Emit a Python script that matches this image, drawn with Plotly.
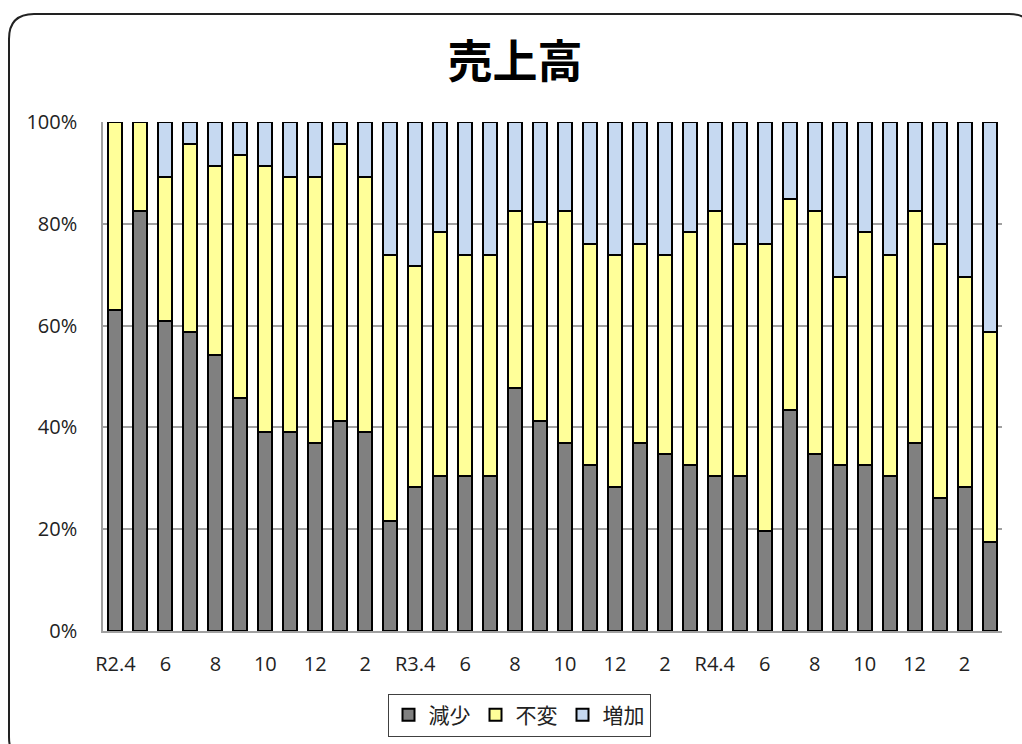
import plotly.graph_objects as go

months = ["R2.4", "R2.5", "R2.6", "R2.7", "R2.8", "R2.9", "R2.10", "R2.11", "R2.12",
          "R3.1", "R3.2", "R3.3", "R3.4", "R3.5", "R3.6", "R3.7", "R3.8", "R3.9",
          "R3.10", "R3.11", "R3.12", "R4.1", "R4.2", "R4.3", "R4.4", "R4.5", "R4.6",
          "R4.7", "R4.8", "R4.9", "R4.10", "R4.11", "R4.12", "R5.1", "R5.2", "R5.3"]

tick_months = ["R2.4", "R2.6", "R2.8", "R2.10", "R2.12", "R3.2", "R3.4", "R3.6", "R3.8",
               "R3.10", "R3.12", "R4.2", "R4.4", "R4.6", "R4.8", "R4.10", "R4.12", "R5.2"]
tick_labels = ["R2.4", "6", "8", "10", "12", "2", "R3.4", "6", "8",
               "10", "12", "2", "R4.4", "6", "8", "10", "12", "2"]

y_tick_vals = [0, 20, 40, 60, 80, 100]
y_tick_labels = ["0%", "20%", "40%", "60%", "80%", "100%"]

decrease = [63.0, 82.6, 60.9, 58.7, 54.3, 45.7, 39.1, 39.1, 37.0,
            41.3, 39.1, 21.7, 28.3, 30.4, 30.4, 30.4, 47.8, 41.3,
            37.0, 32.6, 28.3, 37.0, 34.8, 32.6, 30.4, 30.4, 19.6,
            43.5, 34.8, 32.6, 32.6, 30.4, 37.0, 26.1, 28.3, 17.4]
unchanged = [37.0, 17.4, 28.2, 37.0, 37.0, 47.8, 52.2, 50.0, 52.1,
             54.4, 50.0, 52.2, 43.4, 47.9, 43.5, 43.5, 34.8, 39.1,
             45.6, 43.5, 45.6, 39.1, 39.1, 45.7, 52.2, 45.7, 56.5,
             41.3, 47.8, 37.0, 45.7, 43.5, 45.6, 50.0, 41.3, 41.3]
increase = [0.0, 0.0, 10.9, 4.3, 8.7, 6.5, 8.7, 10.9, 10.9,
            4.3, 10.9, 26.1, 28.3, 21.7, 26.1, 26.1, 17.4, 19.6,
            17.4, 23.9, 26.1, 23.9, 26.1, 21.7, 17.4, 23.9, 23.9,
            15.2, 17.4, 30.4, 21.7, 26.1, 17.4, 23.9, 30.4, 41.3]

series_names = ["減少", "不変", "増加"]
series_colors = ["#808080", "#FFFF99", "#C6D9F1"]

W, H = 1022, 744
L, R, T, B = 103, 20, 122, 113
PW, PH = W - L - R, H - T - B

fig = go.Figure()
for name, vals, col in zip(series_names, [decrease, unchanged, increase], series_colors):
    fig.add_trace(go.Bar(
        x=months, y=vals, name=name,
        marker=dict(color=col, line=dict(color="#000000", width=2)),
    ))


def px(x):
    return (x - L) / PW


def py(y):
    return (H - B - y) / PH


# rounded chart-area border (pixel geometry converted to paper coords)
x0, y0, x1, y1, r = 9, 14, 1034, 762, 25
path = (f"M {px(x0)},{py(y0 + r)} Q {px(x0)},{py(y0)} {px(x0 + r)},{py(y0)} "
        f"L {px(x1 - r)},{py(y0)} Q {px(x1)},{py(y0)} {px(x1)},{py(y0 + r)} "
        f"L {px(x1)},{py(y1 - r)} Q {px(x1)},{py(y1)} {px(x1 - r)},{py(y1)} "
        f"L {px(x0 + r)},{py(y1)} Q {px(x0)},{py(y1)} {px(x0)},{py(y1 - r)} Z")

tick_font = dict(size=20, family="Open Sans", color="#222222")

fig.update_layout(
    width=W, height=H,
    barmode="stack", bargap=0.44,
    paper_bgcolor="white", plot_bgcolor="white",
    margin=dict(l=L, r=R, t=T, b=B, autoexpand=False),
    font=dict(family="Noto Sans CJK JP, sans-serif", color="#222222"),
    title=dict(text="<b>売上高</b>", x=515 / W, xanchor="center",
               y=1 - 62 / H, yanchor="middle", yref="container",
               font=dict(size=45, color="#000000", family="Noto Sans CJK JP")),
    showlegend=True,
    legend=dict(orientation="h", x=px(519), xanchor="center", y=py(715), yanchor="middle",
                bordercolor="#404040", borderwidth=1, bgcolor="white",
                font=dict(size=21, color="#222222", family="Noto Sans CJK JP"),
                traceorder="normal", itemwidth=30),
    shapes=[dict(type="path", xref="paper", yref="paper", path=path,
                 line=dict(color="#222222", width=2), fillcolor="rgba(0,0,0,0)")],
    xaxis=dict(type="category", categoryorder="array", categoryarray=months,
               tickmode="array", tickvals=tick_months, ticktext=tick_labels,
               showgrid=False, showline=True, linecolor="#a0a0a0", linewidth=2,
               ticks="outside", ticklen=14, tickcolor="rgba(0,0,0,0)",
               tickfont=tick_font,
               range=[-0.5, len(months) - 0.5]),
    yaxis=dict(range=[0, 100], tickmode="array", tickvals=y_tick_vals, ticktext=y_tick_labels,
               showgrid=True, gridcolor="#a0a0a0", gridwidth=1.5,
               showline=True, linecolor="#a0a0a0", linewidth=1.5,
               ticks="outside", ticklen=20, tickcolor="rgba(0,0,0,0)",
               tickfont=tick_font,
               zeroline=False),
)

fig.write_html("out.html")
